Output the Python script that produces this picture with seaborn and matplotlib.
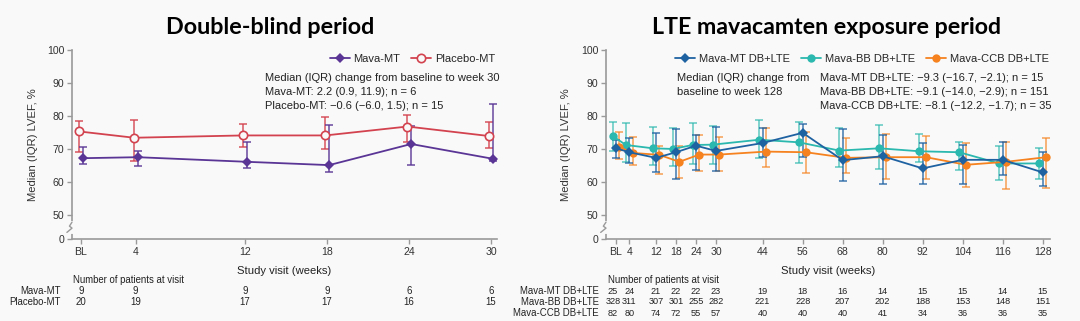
import numpy as np
import pandas as pd
import matplotlib
matplotlib.use("Agg")
import matplotlib.pyplot as plt
import matplotlib.transforms as mtransforms
from matplotlib.lines import Line2D
import seaborn as sns

sns.set_theme(style="white")
plt.rcParams['font.family'] = ['Liberation Sans', 'DejaVu Sans']

# ---------------- data ----------------
weeks_db = [0, 4, 12, 18, 24, 30]
db_ticklabels = ["BL", "4", "12", "18", "24", "30"]
mava_med = [67.2, 67.5, 66.1, 65.1, 71.5, 67.0]
mava_lo = [65.4, 64.8, 64.3, 63.1, 65.2, 66.4]
mava_hi = [70.7, 69.3, 72.2, 77.3, 77.1, 83.5]
plac_med = [75.3, 73.4, 74.1, 74.1, 76.8, 73.9]
plac_lo = [69.1, 66.3, 70.6, 70.1, 72.0, 70.4]
plac_hi = [78.5, 78.9, 77.7, 79.8, 80.2, 78.1]
n_mava_db = [9, 9, 9, 9, 6, 6]
n_plac_db = [20, 19, 17, 17, 16, 15]

weeks_lte = [0, 4, 12, 18, 24, 30, 44, 56, 68, 80, 92, 104, 116, 128]
lte_ticklabels = ["BL", "4", "12", "18", "24", "30", "44", "56", "68", "80",
                  "92", "104", "116", "128"]
mt_med = [70.2, 69.0, 67.3, 69.0, 71.0, 69.4, 71.8, 74.9, 66.6, 67.8, 64.1, 66.7, 66.7, 62.9]
mt_lo = [67.2, 65.8, 62.9, 60.9, 63.7, 63.2, 67.5, 67.5, 60.3, 59.3, 59.3, 59.5, 62.0, 58.8]
mt_hi = [72.8, 73.3, 74.9, 75.9, 74.1, 76.8, 76.3, 77.6, 76.1, 74.1, 71.8, 71.2, 72.0, 69.0]
bb_med = [73.9, 71.2, 70.2, 70.0, 71.2, 71.3, 72.8, 72.0, 69.5, 70.2, 69.3, 69.0, 65.6, 65.6]
bb_lo = [69.3, 66.0, 65.1, 64.7, 65.4, 65.4, 67.2, 65.7, 64.4, 64.0, 65.9, 63.6, 60.5, 61.0]
bb_hi = [78.1, 77.9, 76.6, 76.3, 77.9, 77.0, 78.9, 78.1, 76.4, 77.4, 74.6, 72.2, 71.0, 70.2]
ccb_med = [70.6, 68.8, 68.2, 66.1, 68.3, 68.3, 69.2, 69.0, 67.3, 67.5, 67.5, 65.2, 66.1, 67.5]
ccb_lo = [67.0, 65.2, 62.4, 61.2, 63.4, 63.4, 64.4, 62.6, 62.6, 60.8, 61.0, 58.5, 57.8, 58.3]
ccb_hi = [75.1, 73.6, 71.0, 70.9, 74.3, 73.6, 76.3, 75.1, 73.4, 74.4, 74.0, 71.7, 72.0, 73.3]
n_mt = [25, 24, 21, 22, 22, 23, 19, 18, 16, 14, 15, 15, 14, 15]
n_bb = [328, 311, 307, 301, 255, 282, 221, 228, 207, 202, 188, 153, 148, 151]
n_ccb = [82, 80, 74, 72, 55, 57, 40, 40, 40, 41, 34, 36, 36, 35]

ytick_vals = [50, 60, 70, 80, 90, 100]

# ---------------- style ----------------
BG = "#f9f9f9"
C_MAVA = "#5a3596"
C_PLAC = "#d2434f"
C_MT = "#1f62a2"
C_BB = "#2bb8ae"
C_CCB = "#f5821f"
AXC = "#9a9a9a"
TXT = "#222222"
FS = 7.6      # tick labels
FA = 8.0      # annotations / legend
FT = 6.9      # numbers-at-visit table
YZERO = 42.7  # position of the "0" tick below the axis break

fig = plt.figure(figsize=(10.8, 3.21), dpi=100, facecolor=BG)
W, H = 1080, 321


def add_ax(x0, x1, y_top=50, y_bot=239):
    return fig.add_axes([x0 / W, 1 - y_bot / H, (x1 - x0) / W, (y_bot - y_top) / H])


def style_axis(ax, xlim, weeks, labels):
    ax.set_facecolor(BG)
    for s in ["top", "right"]:
        ax.spines[s].set_visible(False)
    for s in ["left", "bottom"]:
        ax.spines[s].set_color(AXC)
        ax.spines[s].set_linewidth(1.2)
    ax.set_xlim(*xlim)
    ax.set_ylim(YZERO, 100)
    ax.set_yticks([YZERO] + ytick_vals)
    ax.set_yticklabels(["0"] + [str(v) for v in ytick_vals])
    ax.set_xticks(weeks)
    ax.set_xticklabels(labels)
    ax.tick_params(axis="both", which="both", direction="out", length=3.5, width=1,
                   color=AXC, labelsize=FS, labelcolor="#333333", pad=2, left=True, bottom=True)
    ax.set_xlabel("Study visit (weeks)", fontsize=8.1, color=TXT, labelpad=7)
    ax.set_ylabel("")
    # axis break zigzag between 0 and 50
    tr = mtransforms.blended_transform_factory(ax.transAxes, ax.transData)
    ax.plot([0, 0], [44.9, 47.6], transform=tr, color=BG, lw=3, clip_on=False, zorder=5)
    ax.plot([-0.012, 0.0, -0.006, 0.0], [44.7, 46.0, 46.6, 47.8], transform=tr,
            color=AXC, lw=1.0, clip_on=False, zorder=6)


def series(ax, weeks, med, lo, hi, dx, color, marker, ms, open_marker=False, err_alpha=0.9):
    x = np.asarray(weeks, float) + dx
    df = pd.DataFrame({"x": x, "y": med})
    if open_marker:
        kw = dict(markerfacecolor=BG, markeredgecolor=color, markeredgewidth=1.2)
    else:
        kw = dict(markerfacecolor=color, markeredgecolor=color, markeredgewidth=0)
    sns.lineplot(data=df, x="x", y="y", ax=ax, color=color, marker=marker, markersize=ms,
                 linewidth=1.3, legend=False, zorder=4, **kw)
    med = np.asarray(med); lo = np.asarray(lo); hi = np.asarray(hi)
    ax.errorbar(x, med, yerr=[med - lo, hi - med], fmt="none", ecolor=color, elinewidth=1.1,
                capsize=3, capthick=1.1, alpha=err_alpha, zorder=3)


# ---------------- left panel ----------------
ax1 = add_ax(72, 497)
series(ax1, weeks_db, plac_med, plac_lo, plac_hi, -0.12, C_PLAC, "o", 6, open_marker=True)
series(ax1, weeks_db, mava_med, mava_lo, mava_hi, 0.15, C_MAVA, "D", 5)
style_axis(ax1, (-0.66, 30.43), weeks_db, db_ticklabels)
fig.text(33 / W, 1 - 145 / H, "Median (IQR) LVEF, %", rotation=90, ha="center", va="center",
         fontsize=8.1, color="#333333")

h1 = [Line2D([], [], color=C_MAVA, marker="D", ms=5, mew=0, lw=1.3),
      Line2D([], [], color=C_PLAC, marker="o", ms=6, mfc=BG, mec=C_PLAC, mew=1.2, lw=1.3)]
ax1.legend(h1, ["Mava-MT", "Placebo-MT"], ncol=2, frameon=False, fontsize=FA,
           loc="upper right", bbox_to_anchor=(1.02, 1.03), handlelength=1.8,
           columnspacing=1.0, handletextpad=0.35)
for i, t in enumerate(["Median (IQR) change from baseline to week 30",
                       "Mava-MT: 2.2 (0.9, 11.9); n = 6",
                       "Placebo-MT: \u22120.6 (\u22126.0, 1.5); n = 15"]):
    fig.text(265 / W, 1 - (78 + 14 * i) / H, t, fontsize=FA, color=TXT, va="center")

fig.text(270 / W, 1 - 27 / H, "Double-blind period", ha="center", va="center",
         fontsize=16.8, fontweight="bold", family=["Lato", "DejaVu Sans"], color="black")

# numbers at visit, left
trL = mtransforms.blended_transform_factory(ax1.transData, fig.transFigure)
fig.text(73 / W, 1 - 280 / H, "Number of patients at visit", fontsize=FT, color=TXT, va="center")
for r, (lab, vals) in enumerate([("Mava-MT", n_mava_db), ("Placebo-MT", n_plac_db)]):
    yy = 1 - (291 + 11 * r) / H
    fig.text(61 / W, yy, lab, fontsize=FT, color=TXT, ha="right", va="center")
    for w, v in zip(weeks_db, vals):
        ax1.text(w, yy, str(v), transform=trL, fontsize=FT, color=TXT, ha="center", va="center")

# ---------------- right panel ----------------
ax2 = add_ax(606, 1050)
series(ax2, weeks_lte, bb_med, bb_lo, bb_hi, -1.0, C_BB, "o", 6, err_alpha=0.75)
series(ax2, weeks_lte, ccb_med, ccb_lo, ccb_hi, 1.0, C_CCB, "o", 6, err_alpha=0.75)
series(ax2, weeks_lte, mt_med, mt_lo, mt_hi, 0.0, C_MT, "D", 5, err_alpha=0.85)
style_axis(ax2, (-3.0, 130.2), weeks_lte, lte_ticklabels)
fig.text(566 / W, 1 - 145 / H, "Median (IQR) LVEF, %", rotation=90, ha="center", va="center",
         fontsize=8.1, color="#333333")

h2 = [Line2D([], [], color=C_MT, marker="D", ms=5, mew=0, lw=1.3),
      Line2D([], [], color=C_BB, marker="o", ms=6, mew=0, lw=1.3),
      Line2D([], [], color=C_CCB, marker="o", ms=6, mew=0, lw=1.3)]
ax2.legend(h2, ["Mava-MT DB+LTE", "Mava-BB DB+LTE", "Mava-CCB DB+LTE"], ncol=3,
           frameon=False, fontsize=FA, loc="upper right", bbox_to_anchor=(1.02, 1.03),
           handlelength=1.8, columnspacing=1.0, handletextpad=0.35)
fig.text(677 / W, 1 - 78 / H, "Median (IQR) change from", fontsize=FA, color=TXT, va="center")
fig.text(677 / W, 1 - 92 / H, "baseline to week 128", fontsize=FA, color=TXT, va="center")
for i, t in enumerate(["Mava-MT DB+LTE: \u22129.3 (\u221216.7, \u22122.1); n = 15",
                       "Mava-BB DB+LTE: \u22129.1 (\u221214.0, \u22122.9); n = 151",
                       "Mava-CCB DB+LTE: \u22128.1 (\u221212.2, \u22121.7); n = 35"]):
    fig.text(820 / W, 1 - (78 + 14 * i) / H, t, fontsize=FA, color=TXT, va="center")

fig.text(826 / W, 1 - 27 / H, "LTE mavacamten exposure period", ha="center", va="center",
         fontsize=16.7, fontweight="bold", family=["Lato", "DejaVu Sans"], color="black")

trR = mtransforms.blended_transform_factory(ax2.transData, fig.transFigure)
col_shift = [-0.9] + [0.0] * (len(weeks_lte) - 1)   # BL column sits slightly left
fig.text(608 / W, 1 - 280 / H, "Number of patients at visit", fontsize=FT, color=TXT, va="center")
for r, (lab, vals) in enumerate([("Mava-MT DB+LTE", n_mt), ("Mava-BB DB+LTE", n_bb),
                                 ("Mava-CCB DB+LTE", n_ccb)]):
    yy = 1 - (291 + 11 * r) / H
    fig.text(599 / W, yy, lab, fontsize=FT, color=TXT, ha="right", va="center")
    for w, s, v in zip(weeks_lte, col_shift, vals):
        ax2.text(w + s, yy, str(v), transform=trR, fontsize=6.6, color=TXT,
                 ha="center", va="center")

fig.savefig("out.png", dpi=100, facecolor=BG)
